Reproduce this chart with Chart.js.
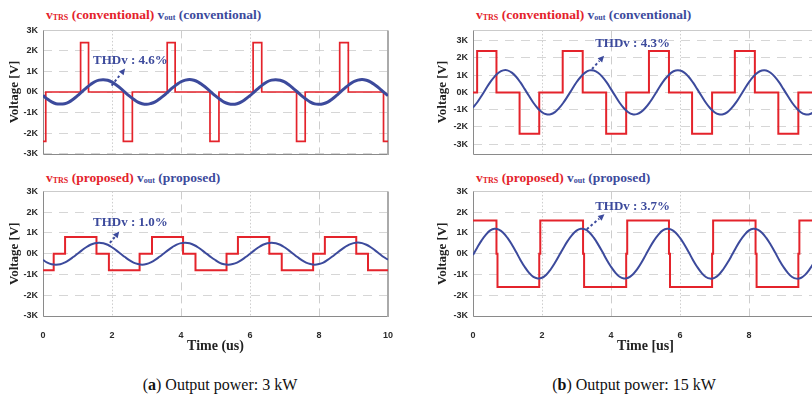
<!DOCTYPE html>
<html>
<head>
<meta charset="utf-8">
<script src="https://cdn.jsdelivr.net/npm/chart.js@4.4.1/dist/chart.umd.min.js"></script>
<style>
  html, body { margin: 0; padding: 0; background: #fff; }
  body { width: 812px; height: 398px; overflow: hidden; position: relative; font-family: "Liberation Serif", serif; }
  .panel { position: absolute; }
  .panel canvas { display: block; }
  .title { position: absolute; font-weight: bold; font-size: 13.5px; line-height: 14px; white-space: nowrap; }
  .title sub { font-size: 8px; vertical-align: -1px; line-height: 0; }
  .red { color: #e4232b; }
  .blue { color: #3c4a9c; }
  .caption { position: absolute; font-size: 16px; line-height: 18px; white-space: nowrap; transform: translateX(-50%); color: #111; }
</style>
</head>
<body>

<div class="title" style="left:46px; top:8px;"><span class="red">v<sub>TRS</sub> (conventional)</span> <span class="blue">v<sub>out</sub> (conventional)</span></div>
<div class="title" style="left:46px; top:171px;"><span class="red">v<sub>TRS</sub> (proposed)</span> <span class="blue">v<sub>out</sub> (proposed)</span></div>
<div class="title" style="left:476px; top:8px;"><span class="red">v<sub>TRS</sub> (conventional)</span> <span class="blue">v<sub>out</sub> (conventional)</span></div>
<div class="title" style="left:476px; top:171px;"><span class="red">v<sub>TRS</sub> (proposed)</span> <span class="blue">v<sub>out</sub> (proposed)</span></div>

<div class="panel" style="left:0; top:20px;"><canvas id="convA" width="400" height="144"></canvas></div>
<div class="panel" style="left:0; top:181px;"><canvas id="propA" width="400" height="180"></canvas></div>
<div class="panel" style="left:430px; top:20px;"><canvas id="convB" width="400" height="144"></canvas></div>
<div class="panel" style="left:430px; top:181px;"><canvas id="propB" width="400" height="180"></canvas></div>

<div class="caption" style="left:220px; top:376px;">(<b>a</b>) Output power: 3 kW</div>
<div class="caption" style="left:634px; top:376px;">(<b>b</b>) Output power: 15 kW</div>

<script>
// axes
const timeTicks = [0, 2, 4, 6, 8, 10];
const voltTicks = [-3, -2, -1, 0, 1, 2, 3];
const dottedLines = [2, 6];
const dashedLines = [4, 8];
const sampleStep = 0.125; // us between vout samples

// (a) 3 kW, conventional: transformer voltage steps (switching time in us, level in kV held until the next time)
const vtrsConvA_t = [0, 0.08, 1.09, 1.32, 2.33, 2.59, 3.60, 3.83, 4.84, 5.10, 6.09, 6.34, 7.35, 7.60, 8.60, 8.85, 9.87, 10];
const vtrsConvA_v = [-2.4, 0, 2.4, 0, -2.4, 0, 2.4, 0, -2.4, 0, 2.4, 0, -2.4, 0, 2.4, 0, -2.4, -2.4];
const voutConvA = [
  -0.17, -0.34, -0.48, -0.57, -0.59, -0.57, -0.49, -0.35, -0.18, 0.01, 0.19, 0.36, 0.50, 0.58, 0.60, 0.57, 0.48, 0.34, 0.18, -0.01,
  -0.19, -0.35, -0.49, -0.57, -0.60, -0.56, -0.48, -0.34, -0.18, 0.01, 0.20, 0.36, 0.50, 0.58, 0.61, 0.57, 0.48, 0.34, 0.18, -0.01,
  -0.19, -0.35, -0.49, -0.57, -0.60, -0.57, -0.48, -0.34, -0.18, 0.01, 0.19, 0.36, 0.50, 0.58, 0.60, 0.57, 0.49, 0.35, 0.18, 0.00,
  -0.19, -0.35, -0.49, -0.58, -0.60, -0.57, -0.49, -0.35, -0.18, 0.01, 0.19, 0.36, 0.50, 0.58, 0.61, 0.57, 0.48, 0.34, 0.18, -0.01,
  -0.18
];

// (a) 3 kW, proposed
const vtrsPropA_t = [0, 0.31, 0.64, 1.55, 1.91, 2.80, 3.16, 4.06, 4.42, 5.32, 5.65, 6.56, 6.92, 7.83, 8.17, 9.08, 9.42, 10];
const vtrsPropA_v = [-0.8, 0, 0.8, 0, -0.8, 0, 0.8, 0, -0.8, 0, 0.8, 0, -0.8, 0, 0.8, 0, -0.8, -0.8];
const voutPropA = [
  -0.30, -0.43, -0.51, -0.53, -0.51, -0.43, -0.31, -0.16, 0.00, 0.16, 0.31, 0.43, 0.50, 0.53, 0.50, 0.43, 0.31, 0.16, 0.00, -0.16,
  -0.31, -0.43, -0.50, -0.53, -0.50, -0.42, -0.30, -0.15, 0.01, 0.17, 0.32, 0.44, 0.51, 0.53, 0.50, 0.42, 0.30, 0.15, -0.01, -0.17,
  -0.31, -0.44, -0.51, -0.53, -0.50, -0.43, -0.31, -0.16, 0.00, 0.16, 0.31, 0.43, 0.50, 0.53, 0.50, 0.43, 0.31, 0.16, 0.00, -0.16,
  -0.31, -0.43, -0.50, -0.53, -0.50, -0.43, -0.30, -0.15, 0.01, 0.17, 0.32, 0.44, 0.51, 0.54, 0.51, 0.43, 0.31, 0.16, 0.00, -0.16,
  -0.29
];

// (b) 15 kW, conventional
const vtrsConvB_t = [0, 0.12, 0.68, 1.35, 1.92, 2.60, 3.18, 3.86, 4.44, 5.10, 5.68, 6.35, 6.93, 7.59, 8.17, 8.85, 9.43, 10];
const vtrsConvB_v = [0, 2.4, 0, -2.4, 0, 2.4, 0, -2.4, 0, 2.4, 0, -2.4, 0, 2.4, 0, -2.4, 0, 0];
const voutConvB = [
  -0.88, -0.57, -0.19, 0.21, 0.60, 0.92, 1.16, 1.28, 1.28, 1.15, 0.91, 0.58, 0.19, -0.21, -0.60, -0.92, -1.15, -1.27, -1.27, -1.14,
  -0.90, -0.58, -0.20, 0.20, 0.59, 0.91, 1.15, 1.28, 1.27, 1.14, 0.90, 0.58, 0.19, -0.21, -0.60, -0.92, -1.15, -1.27, -1.26, -1.13,
  -0.89, -0.57, -0.19, 0.21, 0.60, 0.91, 1.15, 1.27, 1.27, 1.15, 0.91, 0.58, 0.19, -0.21, -0.60, -0.92, -1.15, -1.27, -1.27, -1.14,
  -0.90, -0.58, -0.19, 0.21, 0.60, 0.92, 1.15, 1.27, 1.27, 1.14, 0.90, 0.58, 0.19, -0.21, -0.60, -0.91, -1.15, -1.27, -1.27, -1.14,
  -0.90
];

// (b) 15 kW, proposed
const vtrsPropB_t = [0, 0.68, 0.71, 1.92, 1.95, 3.19, 3.22, 4.44, 4.47, 5.68, 5.71, 6.93, 6.96, 8.19, 8.22, 9.43, 9.46, 10];
const vtrsPropB_v = [1.6, 0, -1.6, 0, 1.6, 0, -1.6, 0, 1.6, 0, -1.6, 0, 1.6, 0, -1.6, 0, 1.6, 1.6];
const voutPropB = [
  -0.06, 0.30, 0.64, 0.92, 1.12, 1.20, 1.16, 1.01, 0.76, 0.44, 0.08, -0.30, -0.64, -0.92, -1.12, -1.19, -1.16, -1.01, -0.76, -0.44,
  -0.08, 0.29, 0.63, 0.91, 1.11, 1.20, 1.17, 1.02, 0.77, 0.45, 0.09, -0.29, -0.63, -0.91, -1.11, -1.19, -1.16, -1.01, -0.77, -0.45,
  -0.08, 0.30, 0.64, 0.92, 1.12, 1.20, 1.16, 1.01, 0.76, 0.44, 0.08, -0.30, -0.64, -0.92, -1.12, -1.20, -1.16, -1.01, -0.76, -0.44,
  -0.08, 0.30, 0.64, 0.92, 1.12, 1.20, 1.16, 1.01, 0.76, 0.44, 0.08, -0.30, -0.64, -0.92, -1.12, -1.20, -1.17, -1.02, -0.77, -0.45,
  -0.08
];

const RED = '#e4232b';
const BLUE = '#3c4a9c';

// dotted / dashed vertical guides and the plot frame, under the traces
const plotFrame = {
  id: 'plotFrame',
  beforeDatasetsDraw(chart) {
    const { ctx, chartArea: a, scales: { x } } = chart;
    const vline = (t) => {
      const px = Math.round(x.getPixelForValue(t)) + 0.5;
      ctx.beginPath();
      ctx.moveTo(px, a.top);
      ctx.lineTo(px, a.bottom);
      ctx.stroke();
    };
    ctx.save();
    ctx.lineWidth = 1;
    ctx.strokeStyle = '#cdcdcd';
    ctx.setLineDash([1.5, 2]);
    dottedLines.forEach(vline);
    ctx.setLineDash([8, 5]);
    dashedLines.forEach(vline);
    ctx.setLineDash([]);

    const l = Math.round(a.left) + 0.5, r = Math.round(a.right), t = Math.round(a.top) + 0.5, b = Math.round(a.bottom) + 0.5;
    ctx.strokeStyle = '#cbcbcb';
    ctx.beginPath(); ctx.moveTo(l, t); ctx.lineTo(r, t); ctx.stroke();
    ctx.strokeStyle = '#8a8a8a';
    ctx.beginPath(); ctx.moveTo(l, t); ctx.lineTo(l, b); ctx.lineTo(r, b); ctx.stroke();
    ctx.strokeStyle = '#aaaaaa';
    ctx.lineWidth = 2;
    ctx.beginPath(); ctx.moveTo(r, t); ctx.lineTo(r, b + 0.5); ctx.stroke();
    ctx.restore();
  }
};

// THD label with a dotted arrow pointing from the vout crest
const thdNote = {
  id: 'thdNote',
  afterDatasetsDraw(chart, args, opts) {
    if (!opts.text) return;
    const { ctx, scales: { x, y } } = chart;
    const x0 = x.getPixelForValue(opts.from[0]), y0 = y.getPixelForValue(opts.from[1]);
    const x1 = x.getPixelForValue(opts.to[0]), y1 = y.getPixelForValue(opts.to[1]);
    const ang = Math.atan2(y1 - y0, x1 - x0);
    const head = 7;
    ctx.save();
    ctx.strokeStyle = BLUE;
    ctx.fillStyle = BLUE;
    ctx.lineWidth = 2;
    ctx.setLineDash([2.5, 2.5]);
    ctx.beginPath();
    ctx.moveTo(x0, y0);
    ctx.lineTo(x1 - head * Math.cos(ang), y1 - head * Math.sin(ang));
    ctx.stroke();
    ctx.setLineDash([]);
    ctx.beginPath();
    ctx.moveTo(x1, y1);
    ctx.lineTo(x1 - head * Math.cos(ang - 0.45), y1 - head * Math.sin(ang - 0.45));
    ctx.lineTo(x1 - head * Math.cos(ang + 0.45), y1 - head * Math.sin(ang + 0.45));
    ctx.closePath();
    ctx.fill();
    ctx.font = 'bold 13px "Liberation Serif"';
    ctx.textBaseline = 'middle';
    ctx.fillText(opts.text, x.getPixelForValue(opts.at[0]), y.getPixelForValue(opts.at[1]));
    ctx.restore();
  }
};

function stepPoints(ts, vs) {
  return ts.map((t, i) => ({ x: t, y: vs[i] }));
}

function samplePoints(vs) {
  return vs.map((v, i) => ({ x: i * sampleStep, y: v }));
}

function drawPanel(id, cfg) {
  new Chart(document.getElementById(id).getContext('2d'), {
    type: 'line',
    data: {
      datasets: [
        {
          label: 'vout',
          data: samplePoints(cfg.vout),
          borderColor: BLUE,
          borderWidth: cfg.blueWidth,
          pointRadius: 0,
          tension: 0.4,
          order: 0
        },
        {
          label: 'vTRS',
          data: stepPoints(cfg.stepT, cfg.stepV),
          borderColor: RED,
          borderWidth: cfg.redWidth,
          pointRadius: 0,
          stepped: 'before',
          order: 1
        }
      ]
    },
    options: {
      responsive: false,
      animation: false,
      devicePixelRatio: 1,
      layout: { padding: { top: 9, right: 12, bottom: 0, left: 0 } },
      scales: {
        x: {
          type: 'linear',
          min: 0,
          max: 10,
          afterBuildTicks: s => { s.ticks = timeTicks.map(v => ({ value: v })); },
          afterFit: s => { s.height = cfg.showTime ? 45 : 4; },
          grid: { display: false },
          border: { display: false },
          ticks: {
            display: cfg.showTime,
            padding: 6,
            maxRotation: 0,
            color: '#2a2a2a',
            font: { family: '"Liberation Sans", Arial, sans-serif', size: 9, weight: 'bold' }
          },
          title: {
            display: cfg.showTime,
            text: cfg.timeTitle,
            color: '#222',
            padding: { top: 0, bottom: 6 },
            font: { family: '"Liberation Serif", serif', size: 14, weight: 'bold' }
          }
        },
        y: {
          min: cfg.yMin,
          max: cfg.yMax,
          afterBuildTicks: s => { s.ticks = voltTicks.map(v => ({ value: v })); },
          afterFit: s => { s.width = 43; },
          grid: { color: '#d6d6d6', lineWidth: 1, drawTicks: false },
          border: { display: false, dash: [9, 7] },
          ticks: {
            padding: 5,
            color: '#2a2a2a',
            font: { family: '"Liberation Sans", Arial, sans-serif', size: 9, weight: 'bold' },
            callback: v => v + 'K'
          },
          title: {
            display: true,
            text: 'Voltage [V]',
            color: '#222',
            padding: { top: cfg.voltTitlePad, bottom: 0 },
            font: { family: '"Liberation Serif", serif', size: 13, weight: 'bold' }
          }
        }
      },
      plugins: {
        legend: { display: false },
        tooltip: { enabled: false },
        thdNote: cfg.thd
      }
    },
    plugins: [plotFrame, thdNote]
  });
}

drawPanel('convA', {
  stepT: vtrsConvA_t, stepV: vtrsConvA_v, vout: voutConvA,
  yMin: -3, yMax: 3, showTime: false, blueWidth: 3, redWidth: 1.7, voltTitlePad: 7,
  thd: { text: 'THDv : 4.6%', at: [1.45, 1.51], from: [1.99, 0.31], to: [2.38, 1.15] }
});

drawPanel('propA', {
  stepT: vtrsPropA_t, stepV: vtrsPropA_v, vout: voutPropA,
  yMin: -3, yMax: 3, showTime: true, timeTitle: 'Time (us)', blueWidth: 2, redWidth: 2, voltTitlePad: 7,
  thd: { text: 'THDv : 1.0%', at: [1.45, 1.50], from: [1.94, 0.52], to: [2.21, 1.07] }
});

drawPanel('convB', {
  stepT: vtrsConvB_t, stepV: vtrsConvB_v, vout: voutConvB,
  yMin: -3.55, yMax: 3.6, showTime: false, blueWidth: 2, redWidth: 2, voltTitlePad: 5,
  thd: { text: 'THDv : 4.3%', at: [3.54, 2.82], from: [3.45, 1.36], to: [3.80, 2.13] }
});

drawPanel('propB', {
  stepT: vtrsPropB_t, stepV: vtrsPropB_v, vout: voutPropB,
  yMin: -3, yMax: 3, showTime: true, timeTitle: 'Time [us]', blueWidth: 2, redWidth: 2, voltTitlePad: 5,
  thd: { text: 'THDv : 3.7%', at: [3.54, 2.26], from: [3.30, 1.18], to: [3.81, 1.90] }
});
</script>
</body>
</html>
